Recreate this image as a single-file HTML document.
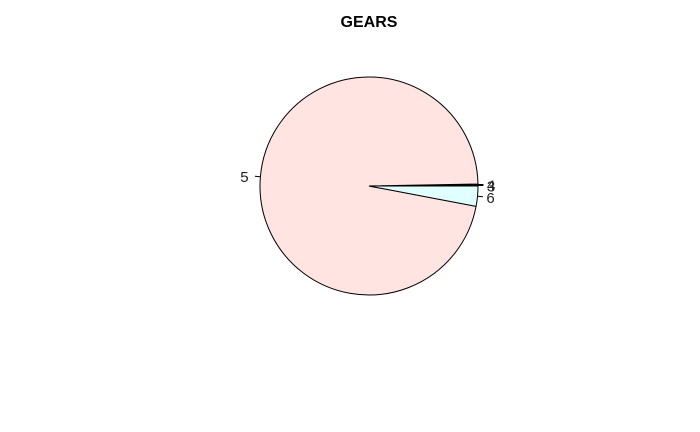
<!DOCTYPE html>
<html><head><meta charset="utf-8"><style>
html,body{margin:0;padding:0;background:#fff;}
svg{display:block;font-family:"Liberation Sans",Arial,sans-serif;}
</style></head><body>
<svg id="chart" width="700" height="432">
<text x="369" y="27" text-anchor="middle" font-size="16" font-weight="bold">GEARS</text>
<g id="slices"></g>
</svg>
<script>
const categories = ["3", "4", "5", "6"];
const values = [1, 1, 680, 21];
const colors = ["#ffffff", "#add8e6", "#ffe4e1", "#e0ffff"];
const cx = 369, cy = 186, r = 109;
const g = document.getElementById('slices');
const NS = 'http://www.w3.org/2000/svg';
const total = values.reduce((a, b) => a + b, 0);
let start = 0;
function pt(a, rr) { return [cx + rr * Math.cos(a), cy - rr * Math.sin(a)]; }
values.forEach((v, i) => {
  const ang = v / total * 2 * Math.PI;
  const end = start + ang;
  const p1 = pt(start, r), p2 = pt(end, r);
  const large = ang > Math.PI ? 1 : 0;
  const path = document.createElementNS(NS, 'path');
  path.setAttribute('d', `M${cx},${cy} L${p1[0]},${p1[1]} A${r},${r} 0 ${large} 0 ${p2[0]},${p2[1]} Z`);
  path.setAttribute('fill', colors[i]);
  path.setAttribute('stroke', '#000');
  path.setAttribute('stroke-width', '1');
  
  
  g.appendChild(path);
  const mid = start + ang / 2;
  const t1 = pt(mid, r), t2 = pt(mid, r * 1.05), t3 = pt(mid, r * 1.1);
  const tick = document.createElementNS(NS, 'line');
  tick.setAttribute('x1', t1[0]); tick.setAttribute('y1', t1[1]);
  tick.setAttribute('x2', t2[0]); tick.setAttribute('y2', t2[1]);
  tick.setAttribute('stroke', '#000');
  
  
  g.appendChild(tick);
  const tx = document.createElementNS(NS, 'text');
  tx.setAttribute('x', t3[0] + (Math.cos(mid) >= 0 ? -2 : -1));
  tx.setAttribute('y', t3[1] + 6);
  tx.setAttribute('font-size', '15');
  tx.setAttribute('fill', '#222');
  tx.setAttribute('text-anchor', Math.cos(mid) >= 0 ? 'start' : 'end');
  tx.textContent = categories[i];
  
  
  g.appendChild(tx);
  start = end;
});
</script>
</body></html>
